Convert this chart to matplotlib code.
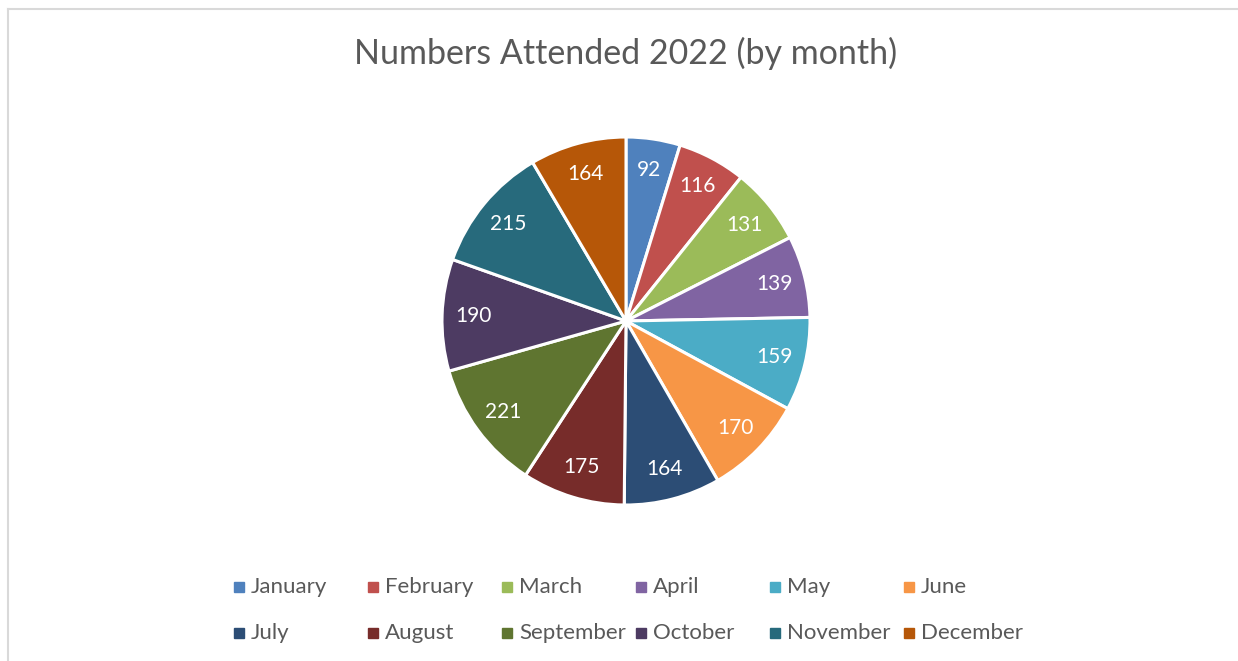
import matplotlib.pyplot as plt
from matplotlib.patches import Rectangle
from matplotlib.lines import Line2D

months = ["January", "February", "March", "April", "May", "June",
          "July", "August", "September", "October", "November", "December"]
attended = [92, 116, 131, 139, 159, 170, 164, 175, 221, 190, 215, 164]
colors = ["#4F81BD", "#C0504D", "#9BBB59", "#8064A2", "#4BACC6", "#F79646",
          "#2C4D75", "#772C2A", "#5F7530", "#4D3B62", "#276A7C", "#B65708"]

W, H = 1238, 661
TEXT = "#595959"
plt.rcParams["font.family"] = ["Lato", "DejaVu Sans"]

fig = plt.figure(figsize=(W / 100, H / 100), dpi=100)

# Pie area (pixel box converted to figure fractions)
cx, cy, r = 626, 321, 184
ax = fig.add_axes([(cx - r) / W, (H - cy - r) / H, 2 * r / W, 2 * r / H])
wedges, texts = ax.pie(attended, colors=colors, startangle=90, counterclock=False,
                       labels=[str(v) for v in attended], labeldistance=0.83,
                       wedgeprops=dict(edgecolor="white", linewidth=2.2, clip_on=False),
                       textprops=dict(color="white", fontsize=15))
for t in texts:
    t.set_ha("center")
    t.set_va("center")
ax.set_xlim(-1.0, 1.0)
ax.set_ylim(-1.0, 1.0)
ax.set_aspect("equal")
ax.axis("off")

fig.text(cx / W, 1 - 53 / H, "Numbers Attended 2022 (by month)",
         ha="center", va="center", fontsize=24.5, color=TEXT)

# Legend: 6 columns x 2 rows, equal column widths
col_x = 239
col_w = 134
rows_y = [587, 633]
for i, (m, c) in enumerate(zip(months, colors)):
    col, row = i % 6, i // 6
    x = col_x + col * col_w
    y = rows_y[row]
    fig.patches.append(Rectangle(((x - 5) / W, 1 - (y + 5) / H), 10 / W, 10 / H,
                                 transform=fig.transFigure, color=c))
    fig.text((x + 12) / W, 1 - y / H, m, ha="left", va="center",
             fontsize=16, color=TEXT)

# Chart border (top and left visible)
fig.add_artist(Line2D([8 / W, 1], [1 - 8.5 / H, 1 - 8.5 / H], color="#D9D9D9",
                      linewidth=1.5, transform=fig.transFigure))
fig.add_artist(Line2D([8 / W, 8 / W], [0, 1 - 8.5 / H], color="#D9D9D9",
                      linewidth=1.5, transform=fig.transFigure))

fig.savefig("out.png", dpi=100)
